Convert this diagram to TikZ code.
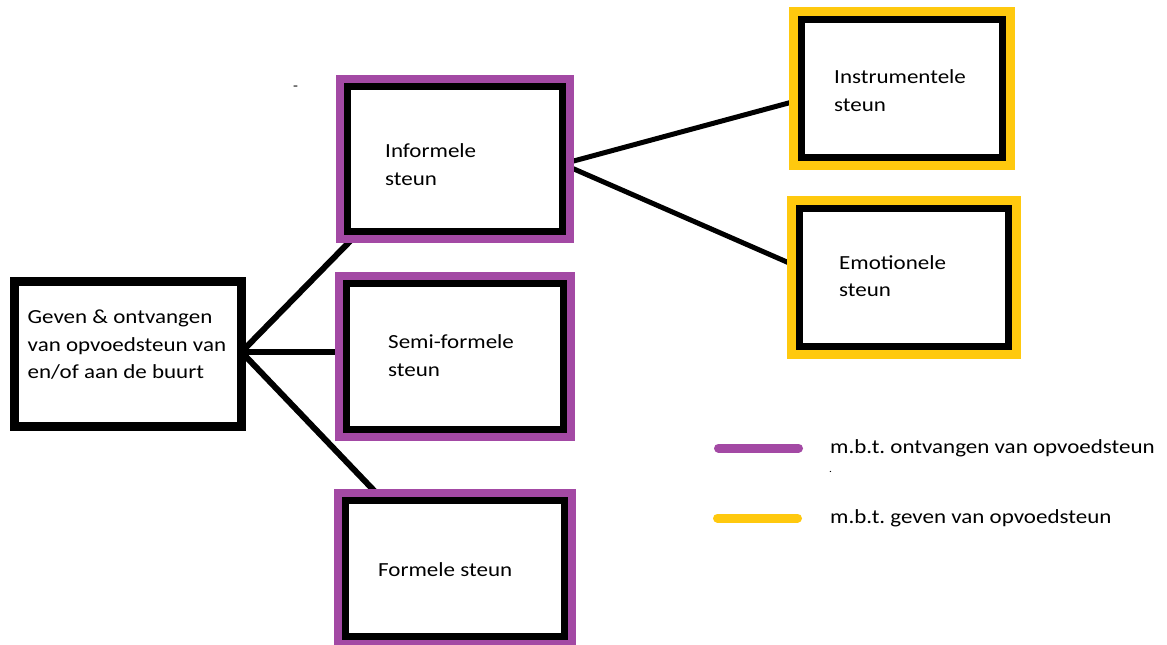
\documentclass[tikz,border=0pt]{standalone}
\usepackage{fontspec}
\setmainfont[FakeStretch=1.15]{Carlito}
\usetikzlibrary{calc,backgrounds}
\definecolor{paintpurple}{RGB}{163,73,164}
\definecolor{paintgold}{RGB}{255,201,14}
\frenchspacing
\begin{document}
\begin{tikzpicture}[x=1pt,y=-1pt,
  box/.style={draw=black, line width=7pt, fill=white, inner sep=0pt, outer sep=0pt, shape=rectangle},
  srcbox/.style={box, line width=9pt},
  recv/.style={preaction={draw=paintpurple, line width=23pt}},
  give/.style={preaction={draw=paintgold, line width=25pt}},
  lbl/.style={anchor=west, align=left, inner sep=0pt, font=\fontsize{20}{27.5}\selectfont},
  link/.style={draw=black, line width=6pt},
  linkr/.style={draw=black, line width=5pt},
  legline/.style={line width=9pt, line cap=round}]
\useasboundingbox (0,0) rectangle (1167,645);

% boxes
\node[srcbox, minimum width=227pt, minimum height=145pt] (src) at (128,354) {};
\node[box, recv, minimum width=215pt, minimum height=145pt] (inf) at (455,159) {};
\node[box, recv, minimum width=217pt, minimum height=146pt] (semi) at (455,356) {};
\node[box, recv, minimum width=219pt, minimum height=136pt] (form) at (455,568.5) {};
\node[box, give, minimum width=201pt, minimum height=138pt] (ins) at (902,88.5) {};
\node[box, give, minimum width=209pt, minimum height=138pt] (emo) at (904,277.5) {};

% texts
\node[lbl] (tsrc) at (27.5,345) {Geven \& ontvangen\\van opvoedsteun van\\en/of aan de buurt};
\node[lbl] (tinf) at (385,164.5) {Informele\\steun};
\node[lbl] (tsemi) at (388,355.5) {Semi-formele\\steun};
\node[lbl] (tform) at (378,570) {Formele steun};
\node[lbl] (tins) at (834,90.5) {Instrumentele\\steun};
\node[lbl] (temo) at (839,276) {Emotionele\\steun};

% stray marks
\node[lbl, font=\fontsize{14}{14}\selectfont] (dash) at (293,88) {-};
\node[lbl, font=\fontsize{10}{10}\selectfont] (dot) at (829,472) {.};

% legend
\coordinate (lp1) at (718.5,448);
\coordinate (lp2) at (798.5,448);
\coordinate (ly1) at (717.5,518);
\coordinate (ly2) at (797.5,518);
\draw[legline, paintpurple] (lp1) -- (lp2);
\draw[legline, paintgold] (ly1) -- (ly2);
\node[lbl] (tl1) at (830,448) {m.b.t. ontvangen van opvoedsteun};
\node[lbl] (tl2) at (830,518) {m.b.t. geven van opvoedsteun};

% connectors
\begin{scope}[on background layer]
\fill[white] (0,0) rectangle (1167,645);
\coordinate (hub) at ($(src.east)+(0,-2)$);
\draw[link] (hub) -- ($(inf.south west)+(12,0)$);
\draw[link] (hub) -- (hub -| semi.west);
\draw[link] (hub) -- ($(form.north west)+(38,0)$);
\draw[linkr] ($(inf.east)+(0,5)$) -- ($(ins.west)+(0,11)$);
\draw[linkr] ($(inf.east)+(0,5)$) -- ($(emo.west)+(0,-10)$);
\end{scope}
\end{tikzpicture}
\end{document}
